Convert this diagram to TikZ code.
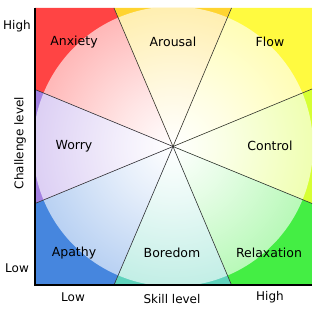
\documentclass[tikz,border=0pt]{standalone}
\usepackage{fontspec}
\setmainfont{DejaVu Sans}
\definecolor{cAnx}{RGB}{255,68,68}
\definecolor{cAro}{RGB}{255,212,48}
\definecolor{cFlow}{RGB}{255,250,64}
\definecolor{cCtl}{RGB}{214,255,52}
\definecolor{cRel}{RGB}{68,238,68}
\definecolor{cBor}{RGB}{95,211,188}
\definecolor{cApa}{RGB}{70,134,222}
\definecolor{cWor}{RGB}{164,130,226}
\newcommand{\mkshade}[2]{\pgfdeclareradialshading{#1}{\pgfpointorigin}{color(0bp)=(white); color(10bp)=(#2!14!white); color(25bp)=(#2!38!white); color(50bp)=(#2!60!white)}}
\mkshade{shAnx}{cAnx}
\mkshade{shAro}{cAro}
\mkshade{shFlow}{cFlow}
\mkshade{shCtl}{cCtl}
\mkshade{shRel}{cRel}
\mkshade{shBor}{cBor}
\mkshade{shApa}{cApa}
\mkshade{shWor}{cWor}
\tikzset{
  sectorline/.style={draw=black!80, line width=0.6pt},
  axisline/.style={draw=black, line width=1.4pt},
  zonelabel/.style={font=\fontsize{12.5}{14}\selectfont, text=black, inner sep=0pt},
  axislabel/.style={font=\fontsize{12}{14}\selectfont, text=black, inner sep=0pt},
}
\newcommand{\sector}[6]{%
  \begin{scope}
    \clip (C) -- (#1) -- (#2) -- (#3) -- cycle;
    \fill[#4] (C) -- (#1) -- (#2) -- (#3) -- cycle;
    \shade[shading=#5] (C) circle (#6);
  \end{scope}}
\begin{document}
\begin{tikzpicture}[x=1pt,y=-1pt]
\useasboundingbox (0,0) rectangle (320,312);
\coordinate (C) at (173,146.5);
\coordinate (TL) at (35,8);
\coordinate (TR) at (312,8);
\coordinate (BR) at (312,285);
\coordinate (BL) at (35,285);
\coordinate (T1) at (114,8);
\coordinate (T2) at (231.5,8);
\coordinate (R1) at (312,89);
\coordinate (R2) at (312,203.5);
\coordinate (B2) at (231.5,285);
\coordinate (B1) at (114,285);
\coordinate (L2) at (35,203.5);
\coordinate (L1) at (35,89.5);
\coordinate (TM) at (173,8);
\coordinate (RM) at (312,146.5);
\coordinate (BM) at (173,285);
\coordinate (LM) at (35,146.5);
% sectors
\sector{L1}{TL}{T1}{cAnx}{shAnx}{140pt}
\sector{T1}{TM}{T2}{cAro}{shAro}{140pt}
\sector{T2}{TR}{R1}{cFlow}{shFlow}{140pt}
\sector{R1}{RM}{R2}{cCtl}{shCtl}{140pt}
\sector{R2}{BR}{B2}{cRel}{shRel}{140pt}
\sector{B2}{BM}{B1}{cBor}{shBor}{140pt}
\sector{B1}{BL}{L2}{cApa}{shApa}{140pt}
\sector{L2}{LM}{L1}{cWor}{shWor}{140pt}
% dividing lines
\foreach \p in {T1,T2,R1,R2,B2,B1,L2,L1} \draw[sectorline] (C) -- (\p);
% axes
\draw[axisline] (TL) -- (BL) -- (BR);
% zone labels
\node[zonelabel] (anx) at (74,42) {Anxiety};
\node[zonelabel] (aro) at (173,42) {Arousal};
\node[zonelabel] (flow) at (270,42) {Flow};
\node[zonelabel] (wor) at (74,146) {Worry};
\node[zonelabel] (ctl) at (270,146) {Control};
\node[zonelabel] (apa) at (74,253) {Apathy};
\node[zonelabel] (bor) at (172,253) {Boredom};
\node[zonelabel] (rel) at (269,253) {Relaxation};
% axis labels
\node[axislabel] (yhigh) at (17,26) {High};
\node[axislabel] (ylow) at (17,268) {Low};
\node[axislabel, rotate=90] (ylab) at (20,143) {Challenge level};
\node[axislabel] (xlow) at (73,297) {Low};
\node[axislabel] (xlab) at (172,299) {Skill level};
\node[axislabel] (xhigh) at (270,297) {High};
\end{tikzpicture}
\end{document}
